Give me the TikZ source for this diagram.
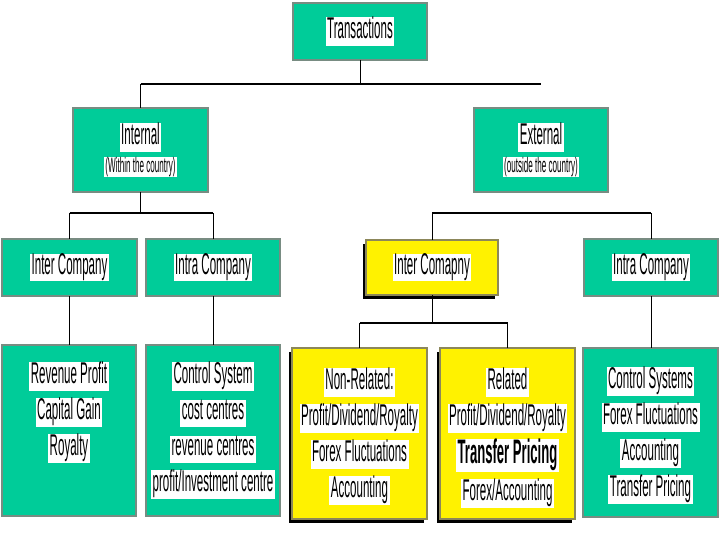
\documentclass[tikz,border=0pt]{standalone}
\usepackage{fontspec}
\setmainfont{Liberation Sans}[FakeStretch=0.385]
\usetikzlibrary{calc,shadows}
\definecolor{boxgreen}{HTML}{00CC99}
\definecolor{boxgrey}{HTML}{788C82}
\definecolor{yelborder}{HTML}{8C875A}
\setlength{\fboxsep}{0pt}
\newcommand{\wl}[1]{\colorbox{white}{\rule[-7pt]{0pt}{25pt}\hspace{1.5pt}#1\hspace{1.5pt}}}
\newcommand{\ws}[1]{\colorbox{white}{\fontsize{21}{24}\selectfont\rule[-4pt]{0pt}{16pt}\hspace{1pt}#1\hspace{1pt}}}
\newcommand{\wb}[1]{\colorbox{white}{\rule[-8pt]{0pt}{28pt}\hspace{1.5pt}\fontsize{34}{36}\selectfont\bfseries #1\hspace{1.5pt}}}
\tikzset{
  base/.style={inner sep=0pt, outer sep=0pt, font=\fontsize{30}{28}\selectfont, align=center},
  gbox/.style={base, fill=boxgreen, draw=boxgrey, line width=2.5pt},
  ybox/.style={base, fill=yellow, draw=yelborder, line width=2pt,
    general shadow={fill=black, shadow xshift=-3pt, shadow yshift=-4pt}},
  txt/.style={inner sep=0pt, outer sep=0pt, font=\fontsize{30}{36}\selectfont, align=center, anchor=north},
  vline/.style={draw=black, line width=1pt},
  hline/.style={draw=black, line width=2.5pt},
}
\begin{document}
\begin{tikzpicture}[x=1pt,y=-1pt]
\useasboundingbox (0,0) rectangle (720,540);
% level 1
\node[gbox, minimum width=134pt, minimum height=57pt] (trans) at (360,31.5) {\wl{Transactions}};
% level 2
\node[gbox, minimum width=135pt, minimum height=84pt] (internal) at (140.5,150) {\wl{Internal}\\\ws{(Within the country)}};
\node[gbox, minimum width=134pt, minimum height=84pt] (external) at (541,150) {\wl{External}\\\ws{(outside the country)}};
% level 3
\node[gbox, minimum width=135pt, minimum height=57pt] (ic1) at (69.5,267.5) {\wl{Inter Company}};
\node[gbox, minimum width=134pt, minimum height=57pt] (ac1) at (213,267.5) {\wl{Intra Company}};
\node[ybox, minimum width=132pt, minimum height=55pt] (ic2) at (432,267.5) {\wl{Inter Comapny}};
\node[gbox, minimum width=134pt, minimum height=57pt] (ac2) at (651,267.5) {\wl{Intra Company}};
% level 4
\node[gbox, minimum width=134pt, minimum height=171pt] (rev) at (69,430.5) {};
\node[gbox, minimum width=134pt, minimum height=171pt] (ctl) at (213,430.5) {};
\node[ybox, minimum width=135pt, minimum height=171pt] (nonrel) at (359.5,433.5) {};
\node[ybox, minimum width=135pt, minimum height=171pt] (rel) at (507.5,433.5) {};
\node[gbox, minimum width=135pt, minimum height=169pt] (rgt) at (650.5,432.5) {};
% level 4 texts
\node[txt] (rev-t) at ($(rev.north)+(0,17)$) {\wl{Revenue Profit}\\\wl{Capital Gain}\\\wl{Royalty}};
\node[txt] (ctl-t) at ($(ctl.north)+(0,17)$) {\wl{Control System}\\\wl{cost centres}\\\wl{revenue centres}\\\wl{profit/Investment centre}};
\node[txt] (nonrel-t) at ($(nonrel.north)+(0,20)$) {\wl{Non-Related:}\\\wl{Profit/Dividend/Royalty}\\\wl{Forex Fluctuations}\\\wl{Accounting}};
\node[txt] (rel-t) at ($(rel.north)+(0,20)$) {\wl{Related}\\\wl{Profit/Dividend/Royalty}\\[2pt]\wb{Transfer Pricing}\\[1pt]\wl{Forex/Accounting}};
\node[txt] (rgt-t) at ($(rgt.north)+(0,19)$) {\wl{Control Systems}\\\wl{Forex Fluctuations}\\\wl{Accounting}\\\wl{Transfer Pricing}};
% connectors level 1-2
\coordinate (j1) at (360,84);
\coordinate (j1l) at (140.5,84);
\coordinate (j1r) at (541,84);
\draw[vline] (trans.south) -- (j1);
\draw[hline] (j1l) -- (j1r);
\draw[vline] (j1l) -- (internal.north);
% connectors level 2-3
\coordinate (j2) at (140.5,213);
\coordinate (j2l) at (69.5,213);
\coordinate (j2r) at (213,213);
\draw[vline] (internal.south) -- (j2);
\draw[hline] (j2l) -- (j2r);
\draw[vline] (j2l) -- (ic1.north);
\draw[vline] (j2r) -- (ac1.north);
\coordinate (j3l) at (432,213);
\coordinate (j3r) at (651,213);
\draw[hline] (j3l) -- (j3r);
\draw[vline] (j3l) -- (ic2.north);
\draw[vline] (j3r) -- (ac2.north);
% connectors level 3-4
\draw[vline] (ic1.south) -- (rev.north -| ic1.south);
\draw[vline] (ac1.south) -- (ctl.north);
\draw[vline] (ac2.south) -- (rgt.north -| ac2.south);
\coordinate (j4) at (432,323);
\coordinate (j4l) at (359.5,323);
\coordinate (j4r) at (507.5,323);
\draw[vline] (ic2.south) -- (j4);
\draw[hline] (j4l) -- (j4r);
\draw[vline] (j4l) -- (nonrel.north);
\draw[vline] (j4r) -- (rel.north);
\end{tikzpicture}
\end{document}
